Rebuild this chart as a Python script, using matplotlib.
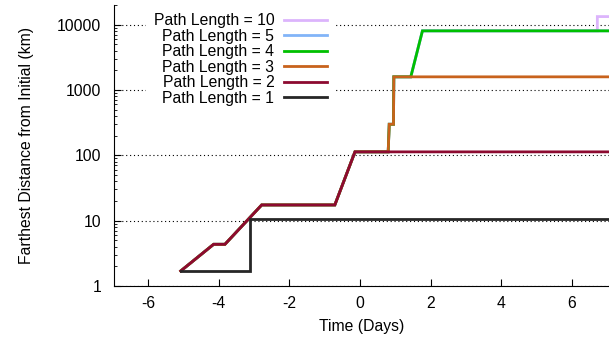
import numpy as np
import matplotlib.pyplot as plt
from matplotlib.ticker import LogLocator, FixedLocator, NullFormatter

plt.rcParams['font.family'] = ['Liberation Sans', 'DejaVu Sans']
plt.rcParams['font.size'] = 11.3
plt.rcParams['axes.unicode_minus'] = False

# data (time in days, distance in km)
x1 = [-5.07, -3.10, -3.10, 7.10]
y1 = [1.70, 1.70, 10.6, 10.6]

x2 = [-5.07, -4.14, -3.82, -2.78, -0.71, -0.14, 7.10]
y2 = [1.70, 4.35, 4.35, 17.4, 17.4, 113, 113]

x3 = [-5.07, -4.14, -3.82, -2.78, -0.71, -0.14, 0.80, 0.83, 0.95, 0.96, 7.10]
y3 = [1.70, 4.35, 4.35, 17.4, 17.4, 113, 113, 299, 299, 1590, 1590]

x4 = [-5.07, -4.14, -3.82, -2.78, -0.71, -0.14, 0.80, 0.83, 0.95, 0.96, 1.44, 1.77, 7.10]
y4 = [1.70, 4.35, 4.35, 17.4, 17.4, 113, 113, 299, 299, 1590, 1590, 8040, 8040]

x5 = x4
y5 = y4

x10 = [-5.07, -4.14, -3.82, -2.78, -0.71, -0.14, 0.80, 0.83, 0.95, 0.96, 1.44, 1.77, 6.72, 6.72, 7.10]
y10 = [1.70, 4.35, 4.35, 17.4, 17.4, 113, 113, 299, 299, 1590, 1590, 8040, 8040, 13300, 13300]

series = [
    ('Path Length = 10', x10, y10, '#dcb4fc'),
    ('Path Length = 5', x5, y5, '#82b4f8'),
    ('Path Length = 4', x4, y4, '#00c000'),
    ('Path Length = 3', x3, y3, '#c8621c'),
    ('Path Length = 2', x2, y2, '#8c0a30'),
    ('Path Length = 1', x1, y1, '#262626'),
]

fig = plt.figure(figsize=(6.09, 3.43), dpi=100)
ax = fig.add_axes([114/609, 57/343, 495/609, 281/343])

for lab, xs, ys, c in series:
    ax.plot(xs, ys, color=c, lw=2.0, label=lab, solid_joinstyle='miter')

ax.set_yscale('log')
ax.set_xlim(-6.96, 7.05)
ax.set_ylim(1, 20000)
ax.xaxis.set_major_locator(FixedLocator([-6, -4, -2, 0, 2, 4, 6]))
ax.set_yticks([1, 10, 100, 1000, 10000])
ax.set_yticklabels(['1', '10', '100', '1000', '10000'])
ax.yaxis.set_minor_locator(LogLocator(base=10, subs=np.arange(2, 10)))
ax.yaxis.set_minor_formatter(NullFormatter())
ax.grid(axis='y', which='major', color='black', ls=(0, (1, 2.5)), lw=0.8)

ax.spines['top'].set_visible(False)
ax.spines['right'].set_visible(False)
ax.tick_params(which='major', direction='in', length=5, width=0.8)
ax.tick_params(axis='x', which='major', pad=7)
ax.tick_params(axis='y', which='major', pad=9)
ax.tick_params(which='minor', direction='in', length=2.5, width=0.6)

ax.set_xlabel('Time (Days)', labelpad=6)
ax.set_ylabel('Farthest Distance from Initial (km)', labelpad=16.5)

leg = ax.legend(loc='upper left', bbox_to_anchor=(0.064, 0.998), markerfirst=False,
                frameon=True, fancybox=False, framealpha=1, facecolor='white',
                edgecolor='none', handlelength=2.7, handletextpad=0.65,
                labelspacing=0.03, borderpad=0.5, borderaxespad=0)

fig.savefig('out.png', dpi=100)
